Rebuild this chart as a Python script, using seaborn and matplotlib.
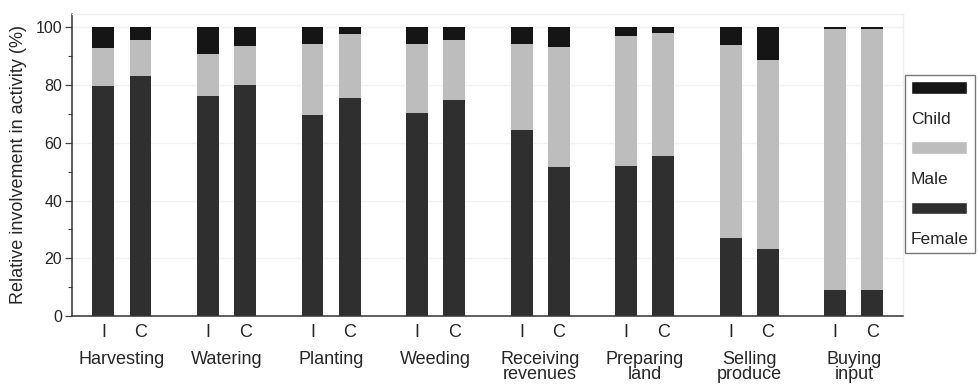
import pandas as pd
import seaborn as sns
import matplotlib.pyplot as plt
from matplotlib.patches import Patch
from matplotlib.ticker import MultipleLocator

# data (percent of involvement), I = intervention, C = control
activities = ["Harvesting", "Watering", "Planting", "Weeding",
              "Receiving\nrevenues", "Preparing\nland", "Selling\nproduce", "Buying\ninput"]
sites = ["I", "C"]

female_I = [79.8, 76.2, 69.7, 70.4, 64.4, 52.0, 27.0, 8.9]
male_I = [13.1, 14.4, 24.6, 23.9, 29.9, 45.0, 66.9, 90.6]
child_I = [7.1, 9.4, 5.7, 5.7, 5.7, 3.0, 6.1, 0.5]

female_C = [83.0, 80.0, 75.6, 74.7, 51.5, 55.3, 23.1, 8.9]
male_C = [12.5, 13.4, 22.1, 20.9, 41.7, 42.8, 65.6, 90.6]
child_C = [4.5, 6.6, 2.3, 4.4, 6.8, 1.9, 11.3, 0.5]

col_female = "#2f2f2f"
col_male = "#bdbdbd"
col_child = "#151515"

# long table with stacked tops
rows = []
for site, f, m, c in [("I", female_I, male_I, child_I), ("C", female_C, male_C, child_C)]:
    for a, fv, mv, cv in zip(activities, f, m, c):
        rows.append({"activity": a, "site": site,
                     "female": fv, "male_top": fv + mv, "child_top": fv + mv + cv})
df = pd.DataFrame(rows)

sns.set_style("ticks")
plt.rcParams["font.family"] = ["Liberation Sans", "DejaVu Sans"]

fig = plt.figure(figsize=(9.79, 3.9), dpi=100)
ax = fig.add_axes([72 / 979, 74 / 390, 831 / 979, 302 / 390])

bar_w = 0.71
gap = 0.41
for col, c in [("child_top", col_child), ("male_top", col_male), ("female", col_female)]:
    sns.barplot(data=df, x="activity", y=col, hue="site", hue_order=sites,
                order=activities, palette={"I": c, "C": c},
                width=bar_w, gap=gap, linewidth=0, legend=False, ax=ax)

ax.set_ylim(0, 104.6)
ax.set_xlim(-0.478, 7.47)
ax.yaxis.set_major_locator(MultipleLocator(20))
ax.yaxis.set_minor_locator(MultipleLocator(10))
ax.tick_params(axis="y", which="major", length=5, width=0.9, labelsize=11.5,
               color="#444444", pad=2)
ax.tick_params(axis="y", which="minor", length=3, width=0.8, color="#444444")
ax.yaxis.grid(True, color="#f2f2f2", linewidth=1)
ax.set_axisbelow(True)

# I / C under each bar, activity names under each group
off = bar_w / 4
n = len(activities)
ax.set_xticks([k + d for k in range(n) for d in (-off, off)])
ax.set_xticklabels(sites * n)
ax.set_xticks(list(range(n)), minor=True)
ax.set_xticklabels(activities, minor=True, linespacing=0.85)
ax.tick_params(axis="x", which="major", length=0, labelsize=13, pad=5.5)
ax.tick_params(axis="x", which="minor", length=0, labelsize=13, pad=25)
ax.set_xlabel("")
ax.set_ylabel("Relative involvement in activity (%)", fontsize=13, labelpad=6)

for s in ["top", "right"]:
    ax.spines[s].set_color("#eeeeee")
    ax.spines[s].set_linewidth(1)
for s in ["left", "bottom"]:
    ax.spines[s].set_color("#333333")
    ax.spines[s].set_linewidth(1.1)

# legend with label below each swatch
blank = Patch(facecolor="none", edgecolor="none")
handles = [Patch(facecolor=col_child), blank,
           Patch(facecolor=col_male), blank,
           Patch(facecolor=col_female), blank]
labels = ["", "Child", "", "Male", "", "Female"]
leg = fig.legend(handles, labels, loc="upper left", bbox_to_anchor=(905 / 979, 1 - 75 / 390),
                 fontsize=12.5, handlelength=3.2, handleheight=0.75, handletextpad=-3.2,
                 labelspacing=0.85, borderpad=0.35, borderaxespad=0, fancybox=False,
                 framealpha=1, edgecolor="#777777")
leg.get_frame().set_linewidth(1)

fig.savefig("out.png", dpi=100)
